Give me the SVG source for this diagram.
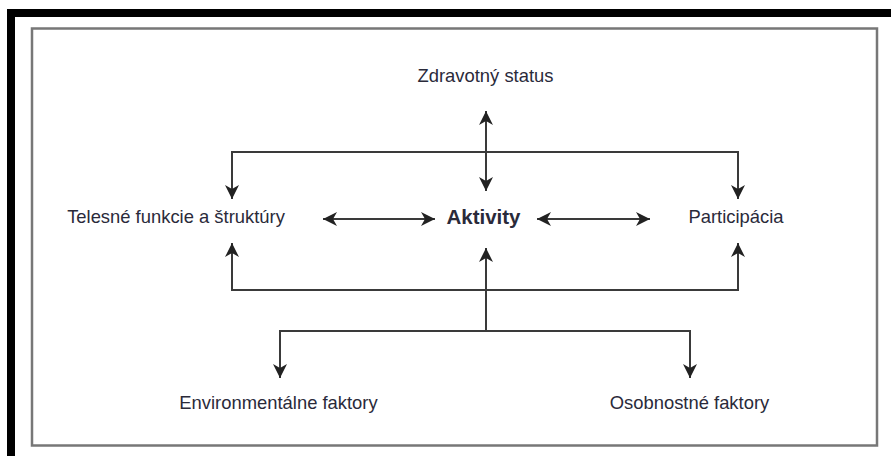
<svg xmlns="http://www.w3.org/2000/svg" width="891" height="456" viewBox="0 0 891 456">
  <style>
    .lbl { font-family: "Liberation Sans", Arial, sans-serif; font-size: 18.4px; fill: #2a2a3a; text-anchor: middle; }
    .bold { font-weight: bold; font-size: 20.5px; }
    .conn { fill: none; stroke: #3a3a3a; stroke-width: 2; }
  </style>
  <defs>
    <marker id="ah" viewBox="-15 -8 16 16" refX="0" refY="0" markerWidth="16" markerHeight="16" markerUnits="userSpaceOnUse" orient="auto-start-reverse">
      <path d="M0,0 L-14,-7 L-10,0 L-14,7 Z" fill="#222"/>
    </marker>
  </defs>
  <rect x="0" y="0" width="891" height="456" fill="#fff"/>
  <path d="M11,456 V13 H891" fill="none" stroke="#000" stroke-width="8"/>
  <rect x="32" y="28.5" width="845" height="417" fill="none" stroke="#777" stroke-width="2.5"/>

  <g id="connectors">
    <path class="conn" d="M486,111 V191" marker-start="url(#ah)" marker-end="url(#ah)"/>
    <path class="conn" d="M232,199 V152 H738 V199" marker-start="url(#ah)" marker-end="url(#ah)"/>
    <path class="conn" d="M232,243 V290 H738 V243" marker-start="url(#ah)" marker-end="url(#ah)"/>
    <path class="conn" d="M486,331 V248" marker-end="url(#ah)"/>
    <path class="conn" d="M280,378 V331 H690 V378" marker-start="url(#ah)" marker-end="url(#ah)"/>
    <path class="conn" d="M323,219 H435" marker-start="url(#ah)" marker-end="url(#ah)"/>
    <path class="conn" d="M537,219 H650" marker-start="url(#ah)" marker-end="url(#ah)"/>
  </g>

  <g id="zdravotny-status"><text class="lbl" x="485.5" y="82">Zdravotný status</text></g>
  <g id="telesne-funkcie"><text class="lbl" x="176" y="223">Telesné funkcie a štruktúry</text></g>
  <g id="aktivity"><text class="lbl bold" x="483.5" y="224">Aktivity</text></g>
  <g id="participacia"><text class="lbl" x="736" y="223">Participácia</text></g>
  <g id="environmentalne-faktory"><text class="lbl" x="278.5" y="409">Environmentálne faktory</text></g>
  <g id="osobnostne-faktory"><text class="lbl" x="689.5" y="409">Osobnostné faktory</text></g>
</svg>
